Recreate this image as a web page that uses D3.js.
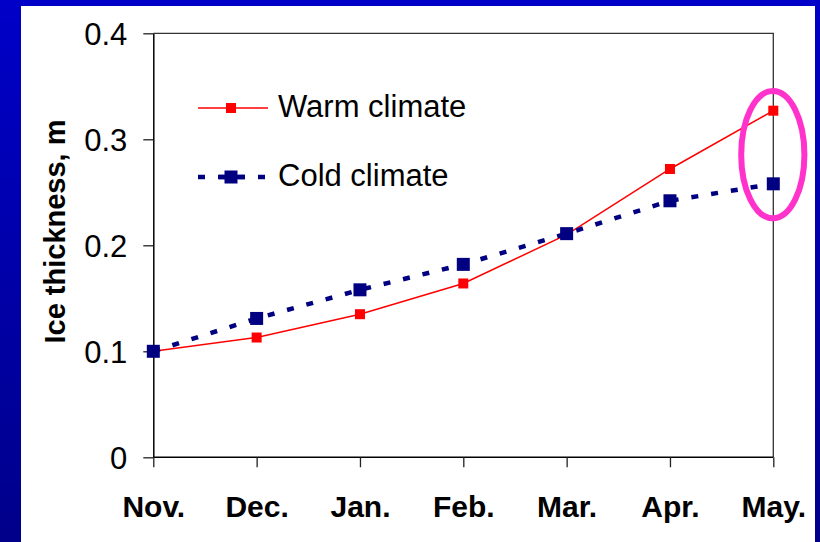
<!DOCTYPE html>
<html>
<head>
<meta charset="utf-8">
<script src="https://cdn.jsdelivr.net/npm/d3@7"></script>
<style>
  html, body { margin: 0; padding: 0; background: #fff; }
  svg { display: block; }
  text { font-family: "Liberation Sans", Arial, sans-serif; fill: #000; }
</style>
</head>
<body>
<div id="chart"></div>
<script>
// Monthly ice thickness under two climate scenarios
const months = ["Nov.", "Dec.", "Jan.", "Feb.", "Mar.", "Apr.", "May."];
const warmClimate = [0.100, 0.113, 0.135, 0.164, 0.210, 0.272, 0.327];
const coldClimate = [0.100, 0.131, 0.158, 0.182, 0.211, 0.242, 0.258];
const yTicks = [0, 0.1, 0.2, 0.3, 0.4];
const seriesNames = ["Warm climate", "Cold climate"];
// Highlight around the final month (centre value and half-height in metres)
const highlight = { month: "May.", centre: 0.2855, halfHeight: 0.060 };

const W = 820, H = 542;
const plot = { left: 153.3, right: 773.3, top: 33.3, bottom: 457.3 };

const svg = d3.select("#chart").append("svg")
  .attr("width", W).attr("height", H);

// Blue slide frame with vertical shading
const defs = svg.append("defs");
const grad = defs.append("linearGradient").attr("id", "frame")
  .attr("x1", 0).attr("y1", 0).attr("x2", 0).attr("y2", 1);
grad.append("stop").attr("offset", "0%").attr("stop-color", "#0000c8");
grad.append("stop").attr("offset", "100%").attr("stop-color", "#00008a");
svg.append("rect").attr("width", W).attr("height", H).attr("fill", "url(#frame)");
svg.append("rect").attr("x", 21).attr("y", 6).attr("width", 794).attr("height", H - 6)
  .attr("fill", "#fff");

const x = d3.scalePoint().domain(months).range([plot.left, plot.right]);
const y = d3.scaleLinear().domain([0, 0.4]).range([plot.bottom, plot.top]);

// Plot-area border (top and right)
svg.append("path")
  .attr("d", `M${plot.left},${plot.top}H${plot.right}V${plot.bottom}`)
  .attr("fill", "none").attr("stroke", "#333").attr("stroke-width", 1.3);

// Y axis
const yAxis = svg.append("g")
  .attr("transform", `translate(${plot.left},0)`)
  .call(d3.axisLeft(y).tickValues(yTicks).tickSize(10).tickSizeOuter(0)
    .tickFormat(d => d === 0 ? "0" : d3.format(".1f")(d)));
yAxis.select(".domain").attr("stroke", "#000").attr("stroke-width", 1.5);
yAxis.selectAll(".tick line").attr("stroke", "#222").attr("stroke-width", 1.3);
yAxis.selectAll(".tick text")
  .attr("x", -26).attr("dy", "11px")
  .style("font-size", "31px").style("font-family", "'Liberation Sans', Arial, sans-serif")
  .attr("fill", "#000");

// X axis
const xAxis = svg.append("g")
  .attr("transform", `translate(0,${plot.bottom})`)
  .call(d3.axisBottom(x).tickSize(10).tickSizeOuter(0));
xAxis.select(".domain").attr("stroke", "#000").attr("stroke-width", 1.5)
  .attr("d", `M${plot.left},0H${plot.right}`);
xAxis.selectAll(".tick line").attr("stroke", "#222").attr("stroke-width", 1.3);
xAxis.selectAll(".tick text")
  .attr("y", 60).attr("dy", 0)
  .style("font-size", "30px").style("font-weight", "bold")
  .style("font-family", "'Liberation Sans', Arial, sans-serif")
  .attr("fill", "#000");

// Y axis title
svg.append("text")
  .attr("transform", `translate(65,231.5) rotate(-90)`)
  .attr("text-anchor", "middle")
  .style("font-size", "29px").style("font-weight", "bold")
  .text("Ice thickness, m");

const line = d3.line().x((d, i) => x(months[i])).y(d => y(d));
const coldSize = 13;
const warmSize = 10;

// Lines first: thin red for warm, dashed navy for cold
svg.append("path").datum(warmClimate)
  .attr("d", line).attr("fill", "none")
  .attr("stroke", "#ff0000").attr("stroke-width", 1.5);
svg.append("path").datum(coldClimate)
  .attr("d", line).attr("fill", "none")
  .attr("stroke", "#000080").attr("stroke-width", 4.5)
  .attr("stroke-dasharray", "7,13");

// Markers: small red squares, then large navy squares on top
svg.append("g").selectAll("rect").data(warmClimate).join("rect")
  .attr("x", (d, i) => x(months[i]) - warmSize / 2)
  .attr("y", d => y(d) - warmSize / 2)
  .attr("width", warmSize).attr("height", warmSize)
  .attr("fill", "#ff0000");
svg.append("g").selectAll("rect").data(coldClimate).join("rect")
  .attr("x", (d, i) => x(months[i]) - coldSize / 2)
  .attr("y", d => y(d) - coldSize / 2)
  .attr("width", coldSize).attr("height", coldSize)
  .attr("fill", "#000080");

// Legend
const legend = svg.append("g");
const lx0 = 198, lx1 = 268, lmid = 231;
legend.append("line").attr("x1", lx0).attr("x2", lx1).attr("y1", 108).attr("y2", 108)
  .attr("stroke", "#ff0000").attr("stroke-width", 1.5);
legend.append("rect").attr("x", lmid - warmSize / 2).attr("y", 108 - warmSize / 2)
  .attr("width", warmSize).attr("height", warmSize).attr("fill", "#ff0000");
legend.append("text").attr("x", 278).attr("y", 116.5)
  .style("font-size", "31px").text(seriesNames[0]);

legend.append("line").attr("x1", lx0).attr("x2", lx1).attr("y1", 177).attr("y2", 177)
  .attr("stroke", "#000080").attr("stroke-width", 4.5).attr("stroke-dasharray", "7,13");
legend.append("line").attr("x1", 219).attr("x2", 245).attr("y1", 177).attr("y2", 177)
  .attr("stroke", "#000080").attr("stroke-width", 4.5);
legend.append("rect").attr("x", lmid - coldSize / 2).attr("y", 177 - coldSize / 2)
  .attr("width", coldSize).attr("height", coldSize).attr("fill", "#000080");
legend.append("text").attr("x", 278).attr("y", 186)
  .style("font-size", "31px").text(seriesNames[1]);

// Highlight ellipse around the last month's values
const cy = y(highlight.centre);
const ry = y(highlight.centre - highlight.halfHeight) - cy;
svg.append("ellipse")
  .attr("cx", x(highlight.month) - 0.5).attr("cy", cy)
  .attr("rx", 31.6).attr("ry", ry)
  .attr("fill", "none").attr("stroke", "#ff33cc").attr("stroke-width", 6);
</script>
</body>
</html>
